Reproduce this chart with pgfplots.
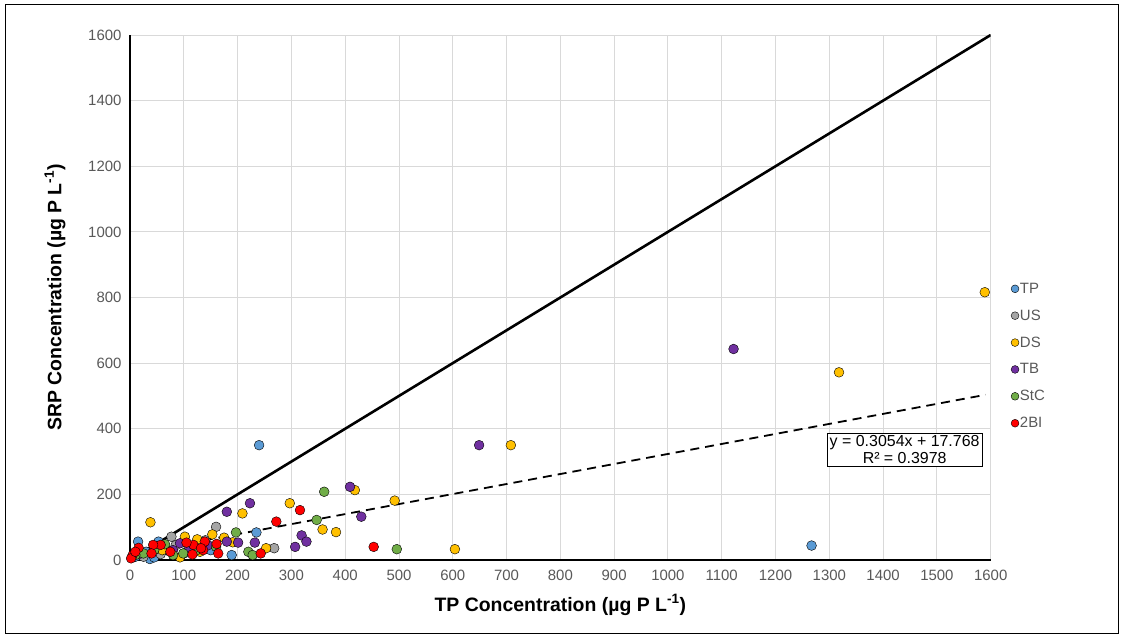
\documentclass[border=0pt]{standalone}
\usepackage{pgfplots}
\pgfplotsset{compat=1.18}
\usepackage{fontspec}
\setmainfont{Liberation Sans}
\definecolor{cTP}{HTML}{5B9BD5}
\definecolor{cUS}{HTML}{A5A5A5}
\definecolor{cDS}{HTML}{FFC000}
\definecolor{cTB}{HTML}{7030A0}
\definecolor{cStC}{HTML}{70AD47}
\definecolor{cBI}{HTML}{FF0000}
\definecolor{ticktext}{HTML}{595959}
\definecolor{gridc}{HTML}{D9D9D9}
\begin{document}
\begin{tikzpicture}
\fill[white] (0,0) rectangle (1123bp,639bp);
\draw[black, line width=1bp] (5bp,5bp) rectangle (1118bp,634bp);
\begin{axis}[
  at={(130bp,79bp)}, anchor=south west,
  scale only axis, width=860.7bp, height=525bp,
  xmin=0, xmax=1600, ymin=0, ymax=1600,
  xtick={0,100,...,1600}, ytick={0,200,...,1600},
  grid=major, major grid style={gridc, line width=0.9bp},
  major tick length=0pt,
  axis x line*=bottom, axis y line*=left,
  axis line style={black, line width=1.1bp},
  scaled ticks=false,
  /pgf/number format/1000 sep={},
  /pgf/number format/assume math mode=true,
  ticklabel style={font=\fontsize{15}{17}\selectfont, text=ticktext},
  xticklabel style={yshift=-7bp},
  yticklabel style={xshift=-5bp},
  xlabel={\textbf{TP Concentration (µg P L\textsuperscript{-1})}},
  ylabel={\textbf{SRP Concentration (µg P L\textsuperscript{-1})}},
  xlabel style={at={(axis description cs:0.5,0)}, anchor=center, yshift=-45bp, font=\fontsize{19.5}{22}\selectfont},
  ylabel style={at={(axis description cs:-0.0871,0.5)}, anchor=center, font=\fontsize{19.5}{22}\selectfont},
  legend style={at={(1.0235,0.530)}, anchor=north west, draw=none, fill=none,
    font=\fontsize{15}{17}\selectfont, text=ticktext, row sep=13bp,
    inner sep=0pt, nodes={inner sep=1pt}},
  legend cell align=left,
  legend image post style={scale=0.8},
  every axis plot/.append style={only marks, mark=*, mark size=4.9bp, mark options={draw=black, line width=0.9bp}},
]
\addplot[mark options={fill=cTP}] coordinates {(240,350) (1267,44) (235,84) (189,15) (15,56) (53,56) (37,3) (10,10) (30,25) (60,35) (100,20) (150,30) (45,8)};
\addlegendentry{TP}
\addplot[mark options={fill=cUS}] coordinates {(160,101) (77,71) (68,30) (268,36) (57,18) (120,40) (25,10) (140,60) (85,45)};
\addlegendentry{US}
\addplot[mark options={fill=cDS}] coordinates {(1589,816) (1318,572) (708,350) (492,181) (418,213) (604,33) (358,93) (383,85) (297,173) (209,142) (38,115) (153,78) (102,71) (125,63) (175,68) (191,54) (253,36) (93,8) (130,25) (60,30)};
\addlegendentry{DS}
\addplot[mark options={fill=cTB}] coordinates {(1122,643) (649,350) (409,223) (430,132) (223,173) (180,147) (319,75) (328,56) (307,40) (180,56) (201,53) (232,53) (93,51) (80,30) (145,45) (20,20) (110,35)};
\addlegendentry{TB}
\addplot[mark options={fill=cStC}] coordinates {(361,208) (347,122) (496,33) (197,84) (220,25) (228,15) (99,20) (25,20) (65,48) (124,30) (160,40) (10,15) (45,30) (80,15)};
\addlegendentry{StC}
\addplot[mark options={fill=cBI}] coordinates {(316,152) (272,117) (453,40) (243,20) (164,20) (161,49) (139,56) (136,30) (118,46) (105,53) (116,17) (132,36) (57,46) (43,46) (16,37) (5,15) (40,20) (2,5) (10,25) (75,25)};
\addlegendentry{2BI}
\addplot[no marks, sharp plot, black, line width=2.6bp, forget plot] coordinates {(0,0) (1600,1600)};
\addplot[no marks, sharp plot, black, line width=1.8bp, dash pattern=on 9bp off 6bp, forget plot] coordinates {(0,17.768) (1590,503.35)};
\node[draw=black, line width=0.8bp, fill=white, align=center, inner sep=2.5bp,
  font=\fontsize{16}{17}\selectfont] at (axis cs:1440,336) {y = 0.3054x + 17.768\\R² = 0.3978};
\end{axis}
\end{tikzpicture}
\end{document}
